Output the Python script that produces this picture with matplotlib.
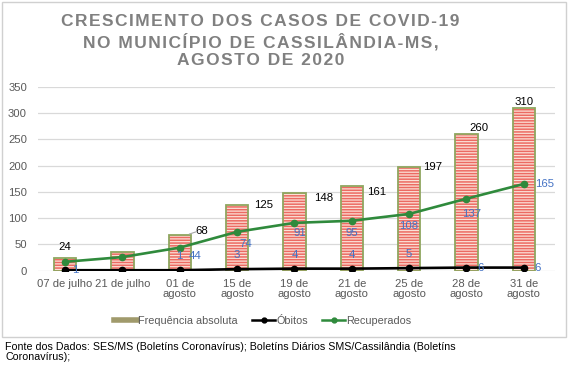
import numpy as np
import matplotlib.pyplot as plt
from matplotlib.patches import Rectangle
from matplotlib.lines import Line2D

plt.rcParams['font.family'] = ['Liberation Sans', 'DejaVu Sans']
plt.rcParams['hatch.linewidth'] = 1.1

categories = ["07 de julho", "21 de julho", "01 de\nagosto", "15 de\nagosto", "19 de\nagosto",
              "21 de\nagosto", "25 de\nagosto", "28 de\nagosto", "31 de\nagosto"]
frequencia = [24, 36, 68, 125, 148, 161, 197, 260, 310]
obitos = [1, 1, 1, 3, 4, 4, 5, 6, 6]
recuperados = [17, 26, 44, 74, 91, 95, 108, 137, 165]

# which labels are shown (the original hides some)
freq_show = [True, False, True, True, True, True, True, True, True]
obit_show = [True, False, True, True, True, True, True, True, True]
rec_show = [False, False, True, True, True, True, True, True, True]

title_lines = ["CRESCIMENTO DOS CASOS DE COVID-19",
               "NO MUNICÍPIO DE CASSILÂNDIA-MS,",
               "AGOSTO DE 2020"]


def spaced(s, gap="\u200a"):
    # fake letter spacing
    return gap.join(s)


fig = plt.figure(figsize=(5.69, 3.75), dpi=100)
fig.patches.append(Rectangle((2 / 569, 1 - 337 / 375), 564 / 569, 335 / 375,
                             transform=fig.transFigure, fill=False,
                             edgecolor="#d0d0d0", linewidth=1))

ax = fig.add_axes([0.067, 0.278, 0.908, 0.491])
x = np.arange(len(categories))

ax.bar(x, frequencia, width=0.39, color="#fbe0d6", hatch="------",
       edgecolor="#ec6a62", linewidth=0, zorder=2)
ax.bar(x, frequencia, width=0.39, fill=False, edgecolor="#8fa65f",
       linewidth=1.3, zorder=3)

ax.plot(x, obitos, color="black", marker="o", markersize=4.5, linewidth=1.9, zorder=4)
ax.plot(x, recuperados, color="#2f8a3c", marker="o", markersize=4.5, linewidth=1.9, zorder=5)

ax.set_ylim(0, 350)
ax.set_xlim(-0.47, 8.54)
ax.set_yticks(range(0, 351, 50))
ax.yaxis.grid(True, color="#d9d9d9", linewidth=0.9, zorder=0)
ax.set_axisbelow(True)
for s in ax.spines.values():
    s.set_visible(False)
ax.tick_params(axis="both", length=0, labelsize=8.1, labelcolor="#595959")
ax.tick_params(axis="y", pad=8)
ax.tick_params(axis="x", pad=6)
ax.set_xticks(x)
ax.set_xticklabels(categories, linespacing=1.0)

# data labels (offsets in points)
freq_off = [(0, 8), (0, 0), (16, 3), (19, 0), (21, -4), (18, -4), (17, 0), (9, 4), (0, 4)]
for i, v in enumerate(frequencia):
    if not freq_show[i]:
        continue
    dx, dy = freq_off[i]
    ax.annotate(str(v), (x[i], v), xytext=(dx, dy), textcoords="offset points",
                ha="center", va="center", fontsize=8.2, color="black", zorder=6)
# leader line for 68
ax.annotate("", (x[2] + 0.12, frequencia[2]), xytext=(9, 3), textcoords="offset points",
            arrowprops=dict(arrowstyle="-", color="#a6a6a6", lw=0.8), zorder=6)

blue = "#4472c4"
obit_off = [(7, 0), (0, 0), (0, 10), (0, 10), (0, 10), (0, 10), (0, 10), (10, 0), (10, 0)]
for i, v in enumerate(obitos):
    if not obit_show[i]:
        continue
    dx, dy = obit_off[i]
    ax.annotate(str(v), (x[i], v), xytext=(dx, dy), textcoords="offset points",
                ha="center", va="center", fontsize=8.2, color=blue, zorder=6)

rec_off = [(0, 0), (0, 0), (11, -6), (6.5, -9), (4, -7), (0, -8.5), (0, -8.5), (3.5, -11), (15, 0)]
for i, v in enumerate(recuperados):
    if not rec_show[i]:
        continue
    dx, dy = rec_off[i]
    ax.annotate(str(v), (x[i], v), xytext=(dx, dy), textcoords="offset points",
                ha="center", va="center", fontsize=8.2, color=blue, zorder=6)

fig.text(0.458, 1 - 41 / 375, "\n".join(spaced(t) for t in title_lines),
         ha="center", va="center", fontsize=12.5, fontweight="bold", color="#808080",
         linespacing=1.26)

handles = [Line2D([], [], color="#a09a6c", linewidth=4),
           Line2D([], [], color="black", marker="o", markersize=3.5, linewidth=1.8),
           Line2D([], [], color="#2f8a3c", marker="o", markersize=3.5, linewidth=1.8)]
fig.legend(handles, ["Frequência absoluta", "Óbitos", "Recuperados"],
           loc="center", bbox_to_anchor=(0.462, 1 - 321 / 375), ncol=3, frameon=False,
           fontsize=7.8, labelcolor="#595959", handlelength=2.1, handletextpad=0.15,
           columnspacing=1.3)

fig.text(0.009, 1 - 352 / 375,
         "Fonte dos Dados: SES/MS (Boletíns Coronavírus); Boletíns Diários SMS/Cassilândia (Boletíns\nCoronavírus);",
         ha="left", va="center", fontsize=7.65, color="black", linespacing=1.1)

fig.savefig("out.png", dpi=100)
